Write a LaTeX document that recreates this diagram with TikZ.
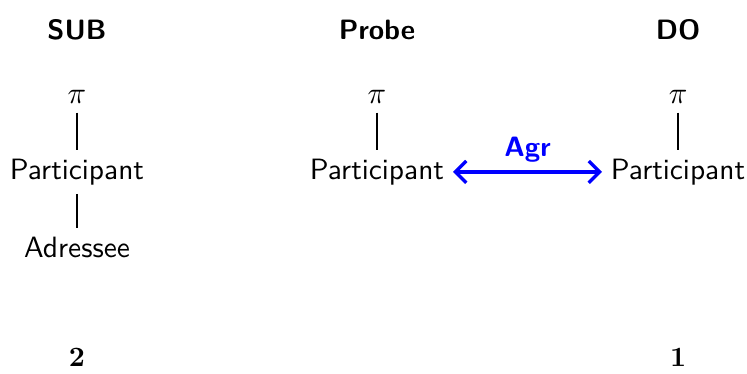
\documentclass[tikz,border=0pt]{standalone}
\usepackage{amsmath}
\usepackage{amssymb}
\usetikzlibrary{arrows.meta}
\renewcommand{\familydefault}{\sfdefault}

\begin{document}
\begin{tikzpicture}[every node/.style={inner sep=3pt, font=\fontsize{10.5}{12}\selectfont}]
	\useasboundingbox (0,0) rectangle (9.382,4.685);
	
	\node[font=\bfseries] (sub) at (0.967, 4.31) {SUB};
	\node[font=\bfseries] (probe) at (4.735, 4.31) {Probe};
	\node[font=\bfseries] (do) at (8.516, 4.31) {DO};
	\node (pi1) at (0.967, 3.467) {$\pi$};
	\node (pi2) at (4.735, 3.467) {$\pi$};
	\node (pi3) at (8.516, 3.467) {$\pi$};
	\node (p1) at (0.967, 2.525) {Participant};
	\node (p2) at (4.735, 2.525) {Participant};
	\node (p3) at (8.516, 2.525) {Participant};
	\node (adr) at (0.967, 1.583) {Adressee};
	\node[font=\normalsize] (n1) at (0.967, 0.201) {$\mathbf{2}$};
	\node[font=\normalsize] (n3) at (8.516, 0.201) {$\mathbf{1}$};
	\draw[black, semithick] (pi1) -- (p1);
        \draw[black, semithick] (p1) -- (adr);
        \draw[black, semithick] (pi2) -- (p2);
        \draw[black, semithick] (pi3) -- (p3);
	\draw[blue, very thick, {Straight Barb[]}-{Straight Barb[]}] (p2) -- (p3) node[midway, above, font=\normalsize\bfseries] {Agr};
\end{tikzpicture}
\end{document}
